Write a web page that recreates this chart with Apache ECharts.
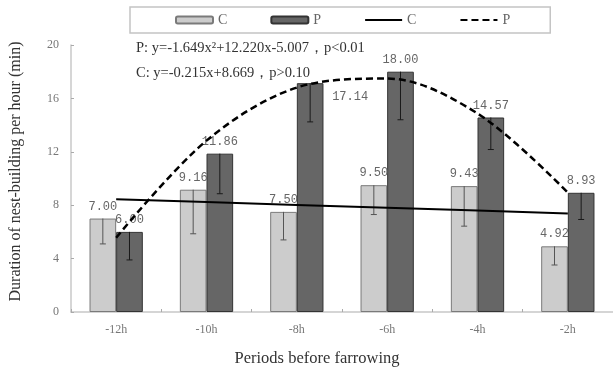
<!DOCTYPE html>
<html>
<head>
<meta charset="utf-8">
<script src="https://cdn.jsdelivr.net/npm/echarts@6/dist/echarts.min.js"></script>
<style>html,body{margin:0;padding:0;background:#fff;}#c{width:613px;height:374px;}</style>
</head>
<body>
<div id="c"></div>
<script>
const categories = ['-12h', '-10h', '-8h', '-6h', '-4h', '-2h'];
const cValues = [7.00, 9.16, 7.50, 9.50, 9.43, 4.92];
const pValues = [6.00, 11.86, 17.14, 18.00, 14.57, 8.93];
const cErr = [1.9, 3.3, 2.1, 2.2, 3.0, 1.4];
const pErr = [2.1, 3.0, 2.9, 3.6, 2.4, 2.0];
const cFit = [8.454, 8.239, 8.024, 7.809, 7.594, 7.379];
const pFit = [5.564, 12.837, 16.812, 17.489, 14.868, 8.949];
const yTicks = [0, 4, 8, 12, 16, 20];

const serif = '"Liberation Serif", "DejaVu Serif", serif';
const mono = '"Liberation Mono", "DejaVu Sans Mono", monospace';
const BAR_FRAC = 0.295;

function errSeries(vals, errs, sign, color) {
  return {
    type: 'custom',
    name: 'err' + sign,
    z: 5,
    silent: true,
    data: vals.map((v, i) => [i, v, errs[i]]),
    renderItem: function (params, api) {
      const idx = api.value(0), top = api.value(1), e = api.value(2);
      const p1 = api.coord([idx, top]);
      const p2 = api.coord([idx, top - e]);
      const bandW = api.size([1, 0])[0];
      const cx = p1[0] + sign * bandW * BAR_FRAC / 2;
      const st = { stroke: color, lineWidth: 1 };
      return {
        type: 'group',
        children: [
          { type: 'line', shape: { x1: cx, y1: p1[1], x2: cx, y2: p2[1] }, style: st },
          { type: 'line', shape: { x1: cx - 3, y1: p2[1], x2: cx + 3, y2: p2[1] }, style: st }
        ]
      };
    }
  };
}

const labelBase = {
  show: true, position: 'top', distance: 6,
  fontFamily: mono, fontSize: 12, color: '#666',
  formatter: p => Number(p.value).toFixed(2)
};

const chart = echarts.init(document.getElementById('c'), null, { renderer: 'canvas' });
chart.setOption({
  animation: false,
  backgroundColor: '#fff',
  grid: { left: 67, top: 45, bottom: 62, width: 550, containLabel: false },
  legend: {
    left: 130, top: 7,
    padding: [6, 40, 6, 45],
    itemGap: 43, itemWidth: 37, itemHeight: 7,
    borderColor: '#c4c4c4', borderWidth: 1.5,
    textStyle: { fontFamily: serif, fontSize: 14, color: '#666' },
    formatter: n => n.trim(),
    data: ['C', 'P',
      { name: 'C ', itemStyle: { opacity: 0, borderWidth: 0 } },
      { name: 'P ', itemStyle: { opacity: 0, borderWidth: 0 } }]
  },
  graphic: [
    { type: 'text', left: 136, top: 41, style: { text: 'P: y=-1.649x²+12.220x-5.007，p<0.01', font: '14.5px ' + serif, fill: '#333' } },
    { type: 'text', left: 136, top: 66, style: { text: 'C: y=-0.215x+8.669，p>0.10', font: '14.5px ' + serif, fill: '#333' } }
  ],
  xAxis: {
    type: 'category', data: categories, boundaryGap: true,
    name: 'Periods before farrowing', nameLocation: 'middle', nameGap: 38,
    nameTextStyle: { fontFamily: serif, fontSize: 16.5, color: '#333', padding: [0, 50, 0, 0] },
    axisLine: { lineStyle: { color: '#c8c8c8', width: 1.5 } },
    axisTick: { show: true, inside: true, length: 3, lineStyle: { color: '#aaa' } },
    axisLabel: { fontFamily: serif, fontSize: 12, color: '#777', margin: 12 },
    splitLine: { show: false }
  },
  yAxis: {
    type: 'value', min: 0, max: 20, interval: 4,
    name: 'Duration of nest-building per hour (min)', nameLocation: 'middle', nameGap: 47,
    nameTextStyle: { fontFamily: serif, fontSize: 16, color: '#333', padding: [0, 0, 0, 14] },
    axisLine: { show: true, lineStyle: { color: '#c8c8c8', width: 1.5 } },
    axisTick: { show: true, inside: true, length: 3, lineStyle: { color: '#aaa' } },
    axisLabel: { fontFamily: serif, fontSize: 12, color: '#777', margin: 12,
      formatter: v => yTicks.includes(v) ? String(v) : '' },
    splitLine: { show: false }
  },
  series: [
    {
      name: 'C', type: 'bar', data: cValues, barWidth: (BAR_FRAC * 100) + '%', barGap: '0%',
      itemStyle: { color: '#cccccc', borderColor: '#7a7a7a', borderWidth: 1 },
      label: labelBase, z: 2
    },
    {
      name: 'P', type: 'bar',
      data: pValues.map((v, i) => i === 2 ? { value: v, label: { offset: [40, 26] } } : v),
      barWidth: (BAR_FRAC * 100) + '%', barGap: '0%',
      itemStyle: { color: '#666666', borderColor: '#333', borderWidth: 1 },
      label: labelBase, z: 2
    },
    errSeries(cValues, cErr, -1, '#555'),
    errSeries(pValues, pErr, 1, '#1a1a1a'),
    {
      name: 'C ', type: 'line', data: cFit, symbol: 'none', z: 6,
      lineStyle: { color: '#000', width: 2 }, itemStyle: { color: '#000' }
    },
    {
      name: 'P ', type: 'line', data: pFit, symbol: 'none', smooth: 0.333, z: 6,
      lineStyle: { color: '#000', width: 2.5, type: [7, 4] }, itemStyle: { color: '#000' }
    }
  ]
});
</script>
</body>
</html>
